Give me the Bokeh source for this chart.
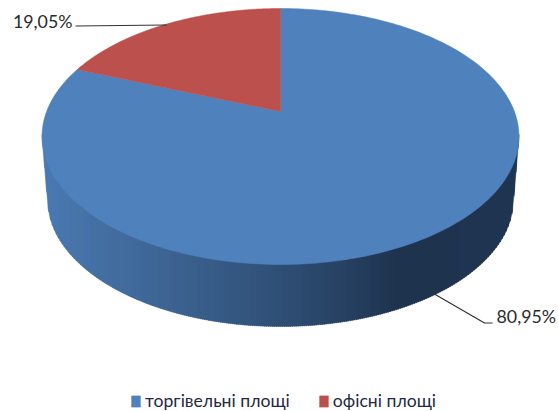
import numpy as np
from bokeh.embed import file_html
from bokeh.resources import INLINE
from bokeh.plotting import figure
from bokeh.models import Range1d, Legend, LegendItem
from bokeh.core.properties import value

categories = ["торгівельні площі", "офісні площі"]
shares = [80.95, 19.05]
labels = ["80,95%", "19,05%"]
colors = ["#4F81BD", "#C0504D"]
red_shade = "#BC504C"
FONT = "Lato"

W, H = 558, 411
CX, CY, RX, RY = 280.0, 136.0, 238.5, 128.0
BCY, BRX, BRY = 199.0, 233.0, 127.0
APEX_SHIFT = 0.195

p = figure(width=W, height=H, output_backend="svg", toolbar_location=None,
           x_range=Range1d(0, W), y_range=Range1d(H, 0),
           min_border=0, outline_line_color=None, background_fill_color="white")
p.xaxis.visible = False
p.yaxis.visible = False
p.grid.visible = False


def project(theta):
    """Clockwise angle from twelve o'clock on the disc -> screen point."""
    x, y = np.sin(theta), np.cos(theta)
    c = APEX_SHIFT
    d = 1 + c * y
    return CX + RX * x * np.sqrt(1 - c * c) / d, CY - RY * (y + c) / d


def wedge(a0, a1):
    ex, ey = project(np.linspace(a0, a1, 240))
    return [CX, *ex], [CY - RY * APEX_SHIFT, *ey]


# side wall, drawn as narrow vertical strips with a horizontal gradient
stops_x = [42, 120, 200, 280, 350, 395, 518]
stops_c = [(0x4A, 0x7A, 0xB2), (0x42, 0x6C, 0x9F), (0x39, 0x5E, 0x8A), (0x2F, 0x4F, 0x76),
           (0x26, 0x40, 0x60), (0x1F, 0x34, 0x4F), (0x20, 0x35, 0x50)]

ang = np.linspace(0, np.pi, 721)
bx, by = CX + BRX * np.cos(ang), BCY + BRY * np.sin(ang)
right_i = np.argmax((by - CY) / np.maximum((CX + RX) - bx, 1e-3))
left_i = np.argmax((by - CY) / np.maximum(bx - (CX - RX), 1e-3))
low_x = np.array([CX - RX, *bx[left_i:right_i - 1:-1], CX + RX])
low_y = np.array([CY, *by[left_i:right_i - 1:-1], CY])

edges = np.arange(CX - RX, CX + RX + 2, 2.0)
sx, sy, sc = [], [], []
for a, b in zip(edges[:-1], edges[1:]):
    b2 = min(b + 0.6, CX + RX)
    a2 = min(a, b2)
    xx = np.array([a2, b2])
    yt = CY + RY * np.sqrt(np.clip(1 - ((xx - CX) / RX) ** 2, 0, 1)) - 2
    yb = np.interp(xx, low_x, low_y)
    sx.append([a2, b2, b2, a2])
    sy.append([yt[0], yt[1], yb[1], yb[0]])
    m = (a + b) / 2
    rgb = [int(round(np.interp(m, stops_x, [c[i] for c in stops_c]))) for i in range(3)]
    sc.append("#%02x%02x%02x" % tuple(rgb))
p.patches(sx, sy, fill_color=sc, line_color=sc, line_width=0.4)

# top face, from the shares
red_angle = shares[1] / 100 * 2 * np.pi
bxs, bys = wedge(0, 2 * np.pi - red_angle)
rxs, rys = wedge(2 * np.pi - red_angle, 2 * np.pi)
r_blue = p.patch(bxs, bys, fill_color=colors[0], line_color=colors[0], line_width=0.5)
r_red = p.patch(rxs, rys, fill_color=red_shade, line_color=red_shade, line_width=0.5)

# leader lines
p.line([75, 166], [25.5, 24.5], line_color="#333333", line_width=1.2)
p.line([433, 484, 492], [293, 322.5, 322.5], line_color="#333333", line_width=1.2)

p.text([72], [20], text=[labels[1]], text_align="right", text_baseline="middle",
       text_font=value(FONT), text_font_size="17.8px", text_color="#2b2b2b")
p.text([496], [315], text=[labels[0]], text_align="left", text_baseline="middle",
       text_font=value(FONT), text_font_size="17.8px", text_color="#2b2b2b")

legend = Legend(items=[LegendItem(label=categories[0], renderers=[r_blue]),
                       LegendItem(label=categories[1], renderers=[r_red])],
                orientation="horizontal", location=(130, 0), border_line_color=None,
                background_fill_alpha=0, glyph_width=11, glyph_height=14,
                label_standoff=4, spacing=28, padding=0, margin=0,
                label_text_font=FONT, label_text_font_size="17.6px",
                label_text_color="#1f2a44", label_height=14)
p.add_layout(legend, "center")

open("out.html", "w").write(file_html(p, INLINE))
